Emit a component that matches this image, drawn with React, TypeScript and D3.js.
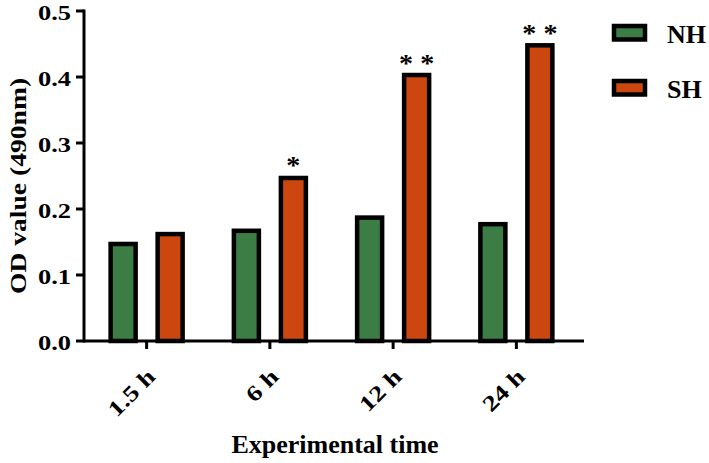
import React from "react";
import * as d3 from "d3";

const categories = ["1.5 h", "6 h", "12 h", "24 h"];
const seriesNames = ["NH", "SH"];
const nhValues = [0.147, 0.167, 0.187, 0.177];
const shValues = [0.162, 0.247, 0.403, 0.448];
const significance = ["", "*", "* *", "* *"];
const yTicks = [0.0, 0.1, 0.2, 0.3, 0.4, 0.5];
const colors = ["#3b7d45", "#cc4710"];

export default function App() {
  const W = 709, H = 463;
  const left = 84, right = 584, top = 11, bottom = 341;
  const x = d3.scaleBand().domain(categories).range([85, 578]).paddingInner(0).paddingOuter(0);
  const y = d3.scaleLinear().domain([0, 0.5]).range([bottom, top]);
  const barW = 25;
  const offset = 23.5;
  const fs = { fontFamily: "'Liberation Serif', 'Times New Roman', Times, serif", fontWeight: 700 };
  const series = [nhValues, shValues];
  return (
    <div style={{ position: "absolute", left: 0, top: 0 }}>
      <svg width={W} height={H} style={{ display: "block" }}>
        <rect width={W} height={H} fill="#fff" />
        {categories.map((c, i) => {
          const cx = x(c)! + x.bandwidth() / 2;
          return (
            <g key={c}>
              {series.map((vals, s) => {
                const bx = cx + (s === 0 ? -offset : offset) - barW / 2;
                return (
                  <rect key={s} x={bx} y={y(vals[i])} width={barW} height={bottom - y(vals[i])}
                    fill={colors[s]} stroke="#000" strokeWidth={4.5} />
                );
              })}
              {significance[i] && (
                <text transform={`translate(${cx + offset},${y(shValues[i]) - 3.5}) scale(1.08,1)`}
                  textAnchor="middle" style={fs} fontSize={26} fill="#000">{significance[i]}</text>
              )}
              <line x1={cx} x2={cx} y1={bottom} y2={bottom + 8} stroke="#000" strokeWidth={3} />
              <text transform={`translate(${cx + 10},${bottom + 37}) rotate(-45) scale(1.25,1)`}
                textAnchor="end" style={fs} fontSize={22} fill="#000">{c}</text>
            </g>
          );
        })}
        <line x1={left} x2={right} y1={bottom} y2={bottom} stroke="#000" strokeWidth={3} />
        <line x1={left} x2={left} y1={top - 1.5} y2={bottom + 1.5} stroke="#000" strokeWidth={3} />
        {yTicks.map((t) => (
          <g key={t}>
            <line x1={left - 8} x2={left} y1={y(t)} y2={y(t)} stroke="#000" strokeWidth={3} />
            <text transform={`translate(${left - 13},${y(t) + 8.5}) scale(1.2,1)`} textAnchor="end"
              style={fs} fontSize={22} fill="#000">{t.toFixed(1)}</text>
          </g>
        ))}
        <text transform={`translate(26,186) rotate(-90) scale(1.15,1)`} textAnchor="middle"
          style={fs} fontSize={24} fill="#000">OD value (490nm)</text>
        <text x={335} y={453} textAnchor="middle" style={fs} fontSize={26}
          fill="#000">Experimental time</text>
        {seriesNames.map((n, s) => (
          <g key={n} transform={`translate(614,${26 + s * 55})`}>
            <rect x={0} y={0} width={31} height={13.5} fill={colors[s]} stroke="#000" strokeWidth={4.5} />
            <text x={53} y={17} style={fs} fontSize={26} fill="#000">{n}</text>
          </g>
        ))}
      </svg>
    </div>
  );
}
